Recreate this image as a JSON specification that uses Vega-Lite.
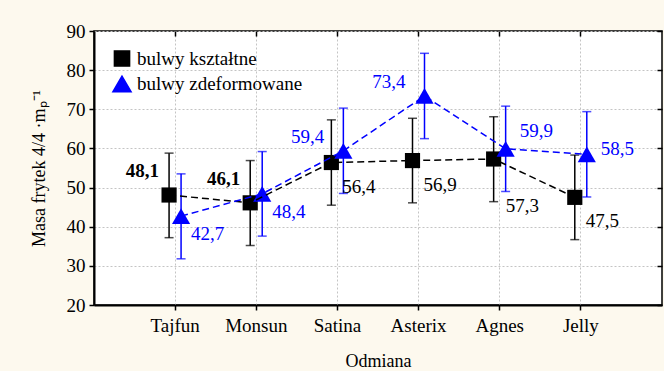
{
 "$schema": "https://vega.github.io/schema/vega-lite/v6.json",
 "width": 568,
 "height": 274,
 "autosize": {"type": "none"},
 "padding": {"left": 94, "top": 31, "right": 2, "bottom": 66},
 "background": "#fdf9ee",
 "config": {
  "font": "Liberation Serif",
  "text": {"font": "Liberation Serif"},
  "view": {"fill": "white", "stroke": "black", "strokeWidth": 1.5},
  "axis": {
   "labelFont": "Liberation Serif",
   "titleFont": "Liberation Serif",
   "labelColor": "black",
   "titleColor": "black",
   "labelFontSize": 19,
   "titleFontSize": 18,
   "labelFontWeight": "normal",
   "titleFontWeight": "normal",
   "domainColor": "black",
   "domainWidth": 2,
   "tickColor": "black",
   "tickWidth": 1.5,
   "tickSize": 5,
   "gridColor": "#c4c4c4",
   "gridDash": [2, 2],
   "gridWidth": 1
  },
  "legend": {
   "labelFont": "Liberation Serif",
   "labelFontSize": 19,
   "labelColor": "black",
   "labelLimit": 400
  }
 },
 "data": {
  "values": [
   {"odmiana": "Tajfun", "seria": "bulwy kształtne", "srednia": 48.1, "dol": 37.2, "gora": 58.8},
   {"odmiana": "Monsun", "seria": "bulwy kształtne", "srednia": 46.1, "dol": 35.2, "gora": 56.9},
   {"odmiana": "Satina", "seria": "bulwy kształtne", "srednia": 56.4, "dol": 45.5, "gora": 67.3},
   {"odmiana": "Asterix", "seria": "bulwy kształtne", "srednia": 56.9, "dol": 46.1, "gora": 67.7},
   {"odmiana": "Agnes", "seria": "bulwy kształtne", "srednia": 57.3, "dol": 46.4, "gora": 68.1},
   {"odmiana": "Jelly", "seria": "bulwy kształtne", "srednia": 47.5, "dol": 36.7, "gora": 58.3},
   {"odmiana": "Tajfun", "seria": "bulwy zdeformowane", "srednia": 42.7, "dol": 31.8, "gora": 53.5},
   {"odmiana": "Monsun", "seria": "bulwy zdeformowane", "srednia": 48.4, "dol": 37.6, "gora": 59.2},
   {"odmiana": "Satina", "seria": "bulwy zdeformowane", "srednia": 59.4, "dol": 48.5, "gora": 70.3},
   {"odmiana": "Asterix", "seria": "bulwy zdeformowane", "srednia": 73.4, "dol": 62.5, "gora": 84.3},
   {"odmiana": "Agnes", "seria": "bulwy zdeformowane", "srednia": 59.9, "dol": 49.0, "gora": 70.8},
   {"odmiana": "Jelly", "seria": "bulwy zdeformowane", "srednia": 58.5, "dol": 47.6, "gora": 69.4}
  ]
 },
 "resolve": {"axis": {"x": "independent", "y": "independent"}},
 "layer": [
  {
   "encoding": {
    "x": {
     "field": "odmiana", "type": "nominal",
     "sort": ["Tajfun", "Monsun", "Satina", "Asterix", "Agnes", "Jelly"],
     "scale": {"type": "band", "paddingInner": 0, "paddingOuter": 0.5},
     "axis": {"orient": "bottom", "labelAngle": 0, "labelPadding": 6, "title": "Odmiana", "titlePadding": 17, "grid": true, "bandPosition": 0.5}
    },
    "xOffset": {
     "field": "seria", "type": "nominal",
     "scale": {"type": "point", "padding": 0, "domain": ["bulwy kształtne", "bulwy zdeformowane"], "range": [34.5, 46.5]}
    },
    "y": {"field": "srednia", "type": "quantitative", "scale": {"domain": [20, 90], "nice": false},
     "axis": {"orient": "left", "values": [20, 30, 40, 50, 60, 70, 80, 90], "grid": true, "labelPadding": 4,
      "title": "Masa frytek 4/4 ·mₚ⁻¹", "titleFontSize": 18, "titlePadding": 18}}
   },
   "layer": [
    {
     "mark": {"type": "point", "filled": true, "opacity": 1},
     "encoding": {
      "color": {
       "field": "seria", "type": "nominal",
       "scale": {"domain": ["bulwy kształtne", "bulwy zdeformowane"], "range": ["#000000", "#0000ff"]},
       "legend": {"orient": "top-left", "offset": 10, "title": null, "symbolSize": 260, "rowPadding": 3, "padding": 8, "labelOffset": 5, "labelFont": "Liberation Serif", "labelFontSize": 19}
      },
      "shape": {
       "field": "seria", "type": "nominal",
       "scale": {"domain": ["bulwy kształtne", "bulwy zdeformowane"], "range": ["square", "triangle-up"]},
       "legend": {"orient": "top-left", "offset": 10, "title": null, "symbolSize": 260, "rowPadding": 3, "padding": 8, "labelOffset": 5, "labelFont": "Liberation Serif", "labelFontSize": 19}
      },
      "size": {
       "field": "seria", "type": "nominal",
       "scale": {"domain": ["bulwy kształtne", "bulwy zdeformowane"], "range": [230, 330]},
       "legend": null
      }
     }
    },
    {
     "mark": {"type": "rule", "strokeWidth": 1.5},
     "encoding": {
      "y": {"field": "dol", "type": "quantitative"},
      "y2": {"field": "gora"},
      "color": {"field": "seria", "type": "nominal", "legend": null}
     }
    },
    {
     "mark": {"type": "tick", "size": 9, "thickness": 1.5},
     "encoding": {
      "y": {"field": "dol", "type": "quantitative"},
      "color": {"field": "seria", "type": "nominal", "legend": null}
     }
    },
    {
     "mark": {"type": "tick", "size": 9, "thickness": 1.5},
     "encoding": {
      "y": {"field": "gora", "type": "quantitative"},
      "color": {"field": "seria", "type": "nominal", "legend": null}
     }
    },
    {
     "mark": {"type": "line", "strokeDash": [7, 4], "strokeWidth": 1.5},
     "encoding": {
      "color": {"field": "seria", "type": "nominal", "legend": null}
     }
    },
    {
     "transform": [
      {"filter": "datum.seria === 'bulwy kształtne' && (datum.odmiana === 'Tajfun' || datum.odmiana === 'Monsun')"},
      {"calculate": "replace(format(datum.srednia, '.1f'), '.', ',')", "as": "etykieta"}
     ],
     "mark": {"type": "text", "font": "Liberation Serif", "fontSize": 19, "fontWeight": "bold", "align": "right", "baseline": "middle", "dx": -10, "dy": -24, "color": "black"},
     "encoding": {"text": {"field": "etykieta"}}
    },
    {
     "transform": [
      {"filter": "datum.seria === 'bulwy kształtne' && (datum.odmiana === 'Satina' || datum.odmiana === 'Asterix' || datum.odmiana === 'Jelly')"},
      {"calculate": "replace(format(datum.srednia, '.1f'), '.', ',')", "as": "etykieta"}
     ],
     "mark": {"type": "text", "font": "Liberation Serif", "fontSize": 19, "align": "left", "baseline": "middle", "dx": 11, "dy": 24, "color": "black"},
     "encoding": {"text": {"field": "etykieta"}}
    },
    {
     "transform": [
      {"filter": "datum.seria === 'bulwy kształtne' && datum.odmiana === 'Agnes'"},
      {"calculate": "replace(format(datum.srednia, '.1f'), '.', ',')", "as": "etykieta"}
     ],
     "mark": {"type": "text", "font": "Liberation Serif", "fontSize": 19, "align": "left", "baseline": "middle", "dx": 12, "dy": 47, "color": "black"},
     "encoding": {"text": {"field": "etykieta"}}
    },
    {
     "transform": [
      {"filter": "datum.seria === 'bulwy zdeformowane' && (datum.odmiana === 'Tajfun' || datum.odmiana === 'Monsun')"},
      {"calculate": "replace(format(datum.srednia, '.1f'), '.', ',')", "as": "etykieta"}
     ],
     "mark": {"type": "text", "font": "Liberation Serif", "fontSize": 19, "align": "left", "baseline": "middle", "dx": 10, "dy": 18, "color": "#0000ff"},
     "encoding": {"text": {"field": "etykieta"}}
    },
    {
     "transform": [
      {"filter": "datum.seria === 'bulwy zdeformowane' && (datum.odmiana === 'Satina' || datum.odmiana === 'Asterix')"},
      {"calculate": "replace(format(datum.srednia, '.1f'), '.', ',')", "as": "etykieta"}
     ],
     "mark": {"type": "text", "font": "Liberation Serif", "fontSize": 19, "align": "right", "baseline": "middle", "dx": -19, "dy": -14, "color": "#0000ff"},
     "encoding": {"text": {"field": "etykieta"}}
    },
    {
     "transform": [
      {"filter": "datum.seria === 'bulwy zdeformowane' && datum.odmiana === 'Agnes'"},
      {"calculate": "replace(format(datum.srednia, '.1f'), '.', ',')", "as": "etykieta"}
     ],
     "mark": {"type": "text", "font": "Liberation Serif", "fontSize": 19, "align": "left", "baseline": "middle", "dx": 14, "dy": -18, "color": "#0000ff"},
     "encoding": {"text": {"field": "etykieta"}}
    },
    {
     "transform": [
      {"filter": "datum.seria === 'bulwy zdeformowane' && datum.odmiana === 'Jelly'"},
      {"calculate": "replace(format(datum.srednia, '.1f'), '.', ',')", "as": "etykieta"}
     ],
     "mark": {"type": "text", "font": "Liberation Serif", "fontSize": 19, "align": "left", "baseline": "middle", "dx": 14, "dy": -5, "color": "#0000ff"},
     "encoding": {"text": {"field": "etykieta"}}
    }
   ]
  },
  {
   "mark": {"type": "rule", "opacity": 0},
   "encoding": {
    "x": {"field": "odmiana", "type": "nominal",
     "sort": ["Tajfun", "Monsun", "Satina", "Asterix", "Agnes", "Jelly"],
     "axis": {"orient": "top", "labels": false, "title": null, "grid": false, "tickSize": -5, "domain": false, "bandPosition": 0.5}},
    "y": {"field": "srednia", "type": "quantitative",
     "axis": {"orient": "right", "labels": false, "title": null, "grid": false, "tickSize": -5, "domain": false, "values": [20, 30, 40, 50, 60, 70, 80, 90]}}
   }
  }
 ]
}
